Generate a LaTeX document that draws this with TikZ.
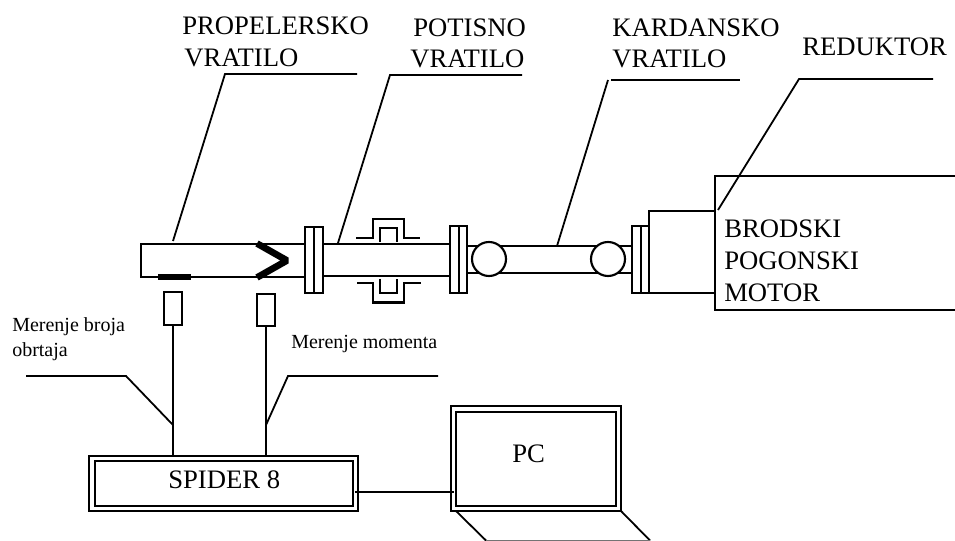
\documentclass[tikz,border=0pt]{standalone}
\usepackage{fontspec}
\setmainfont{Liberation Serif}
\tikzset{
  part/.style={draw=black,line width=1.6pt},
  leader/.style={draw=black,line width=1.35pt},
  bar/.style={draw=black,line width=5.2pt},
  big/.style={inner sep=0pt,anchor=base west,font=\fontsize{20}{20}\selectfont},
  small/.style={inner sep=0pt,anchor=base west,font=\fontsize{15}{15}\selectfont},
  sensorbox/.style={draw=black,line width=1.4pt,inner sep=0pt,minimum width=12.9pt,minimum height=24.6pt},
  framebox/.style={draw=black,line width=2.1pt,inner sep=0pt,fill=white},
}
\begin{document}
\begin{tikzpicture}[x=0.75pt,y=-0.75pt]
\useasboundingbox (0,0) rectangle (955,541);
% texts
\node[big] (t1a) at (182,35) {PROPELERSKO};
\node[big] (t1b) at (184,67) {VRATILO};
\node[big] (t2a) at (413,37) {POTISNO};
\node[big] (t2b) at (410,68) {VRATILO};
\node[big] (t3a) at (612,37) {KARDANSKO};
\node[big] (t3b) at (612,68) {VRATILO};
\node[big] (t4) at (802,56) {REDUKTOR};
\node[big] (m1) at (724,238) {BRODSKI};
\node[big] (m2) at (724,270) {POGONSKI};
\node[big] (m3) at (724,301) {MOTOR};
\node[small] (s1) at (12,331) {Merenje broja};
\node[small] (s2) at (12,356) {obrtaja};
\node[small] (s3) at (291,348) {Merenje momenta};
% shaft 1
\draw[part] (305,244) -- (141,244) -- (141,277) -- (305,277);
\draw[bar] (158,277) -- (191,277);
\draw[black,line width=5pt,line join=bevel] (257,243.5) -- (287,260.5) -- (257,277.5);
% shaft 2
\draw[part] (323,244) -- (450,244);
\draw[part] (323,276) -- (450,276);
% flanges
\draw[part] (305,227) rectangle (323,293);
\draw[part] (314,227) -- (314,293);
\draw[part] (450,226) rectangle (467,293);
\draw[part] (459,226) -- (459,293);
% coupling
\draw[part] (356,238) -- (373,238) -- (373,219) -- (404,219) -- (404,238) -- (420,238);
\draw[part] (380,242) -- (380,228) -- (397,228) -- (397,242);
\draw[part] (357,283) -- (373,283) -- (373,302.5) -- (404,302.5) -- (404,283) -- (421,283);
\draw[part] (380,279) -- (380,293) -- (397,293) -- (397,279);
% shaft 3
\draw[part] (467,246) -- (632,246);
\draw[part] (467,273) -- (632,273);
\draw[part,fill=white] (489,259) circle (17);
\draw[part,fill=white] (608,259) circle (17);
\draw[part] (632,226) rectangle (649,293);
\draw[part] (641,226) -- (641,293);
% reducer and motor
\draw[part] (649,211) rectangle (715,293);
\draw[part] (955,176) -- (715,176) -- (715,310) -- (955,310);
% upper leaders
\coordinate (a1) at (173,241); \coordinate (b1) at (225,74); \coordinate (c1) at (357,74);
\coordinate (a2) at (338,243); \coordinate (b2) at (390,75); \coordinate (c2) at (522,75);
\coordinate (a3) at (557,246); \coordinate (b3) at (608,80); \coordinate (c3a) at (611,80); \coordinate (c3) at (740,80);
\coordinate (a4) at (718,210); \coordinate (b4) at (799,79); \coordinate (c4) at (933,79);
\draw[leader] (a1) -- (b1) -- (c1);
\draw[leader] (a2) -- (b2) -- (c2);
\draw[leader] (a3) -- (b3);
\draw[leader] (c3a) -- (c3);
\draw[leader] (a4) -- (b4) -- (c4);
% sensors
\node[sensorbox] (sen1) at (173,308.5) {};
\node[sensorbox] (sen2) at (266,310) {};
% spider
\node[framebox,minimum width=201.75pt,minimum height=41.25pt] (spider) at (223.5,483.5) {};
\node[framebox,minimum width=193.5pt,minimum height=33.75pt] (spiderin) at (224,483.5) {};
\node[big] (spt) at (168,488) {SPIDER 8};
% pc
\node[framebox,minimum width=127.5pt,minimum height=78.75pt] (pc) at (536,458.5) {};
\node[framebox,minimum width=120pt,minimum height=70.5pt] (pcin) at (536,459) {};
\node[big] (pct) at (512,462) {PC};
\coordinate (k1) at (456,511); \coordinate (k2) at (486,540.5); \coordinate (k3) at (650,540.5); \coordinate (k4) at (621,511);
\draw[leader] (k1) -- (k2);
\draw[leader] (k4) -- (k3);
\draw[draw=black!55,line width=1pt] (k2) -- (k3);
% wires
\draw[leader] (sen1.south) -- ([yshift=-1.5pt]sen1.south |- spider.north);
\draw[leader] (sen2.south) -- ([yshift=-1.5pt]sen2.south |- spider.north);
\coordinate (w1) at (173,425); \coordinate (w2) at (266,425);
\draw[leader] (26,376) coordinate (l1) -- (126,376) coordinate (l2) -- (w1);
\draw[leader] (438,376) coordinate (r1) -- (288,376) coordinate (r2) -- (w2);
\coordinate (wa) at (355,492); \coordinate (wb) at (454,492);
\draw[leader] (wa) -- (wb);
\end{tikzpicture}
\end{document}
